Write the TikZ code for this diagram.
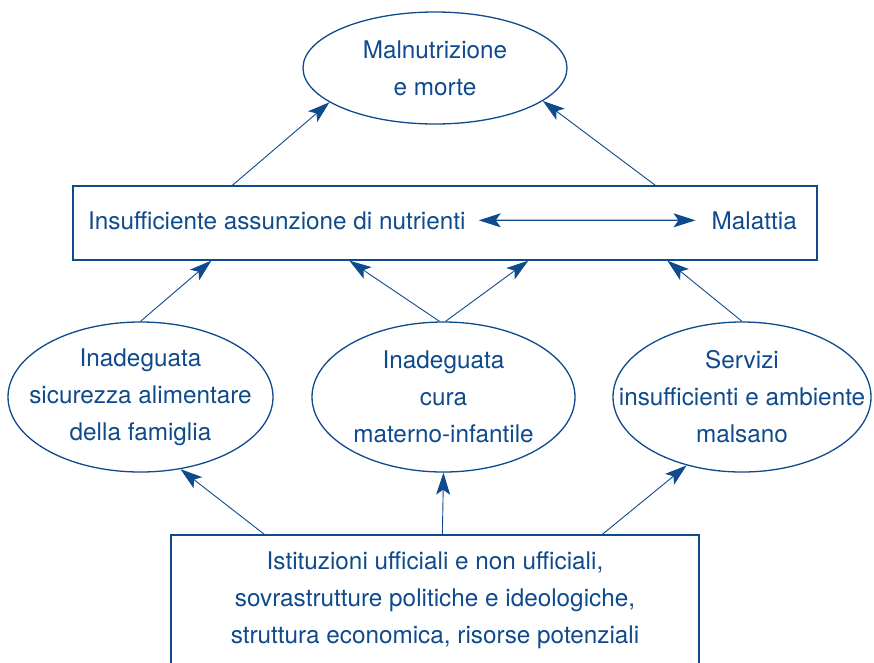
\documentclass[tikz,border=0pt]{standalone}
\usepackage{fontspec}
\setmainfont{TeX Gyre Heros}
\usetikzlibrary{arrows.meta,shapes.geometric}
\definecolor{unblue}{RGB}{14,74,140}
\tikzset{
	every node/.style={text=unblue, font=\fontsize{24.3}{37}\selectfont, align=center},
	bubble/.style={ellipse, draw=unblue, line width=1.3pt, inner sep=0pt},
	frame/.style={rectangle, draw=unblue, line width=1.3pt},
	link/.style={draw=unblue, line width=0.9pt, ->},
	>={Stealth[length=22pt,width=14pt,inset=5pt]}
}
\begin{document}
\begin{tikzpicture}[x=1pt,y=-1pt]
		\useasboundingbox (0,0) rectangle (874,662);
		\clip (0,0) rectangle (874,662);
		
		\node[bubble, minimum width=264, minimum height=112, label={center:{Malnutrizione\\e morte}}] (morte) at (435,68) {};
		
		\node[frame, minimum width=744, minimum height=74] (cause) at (445,223) {};
		\node[anchor=base west, inner xsep=13pt] (nutrienti) at (75,229) {Insufficiente assunzione di nutrienti};
		\node[anchor=base east, inner xsep=16pt] (malattia) at (813,229) {Malattia};
		\draw[link, <->, line width=1.3pt] (nutrienti) -- (malattia);
		
		\node[bubble, minimum width=265, minimum height=150, label={center:{Inadeguata\\sicurezza alimentare\\della famiglia}}] (sicurezza) at (140.5,397) {};
		\node[bubble, minimum width=263, minimum height=150, label={center:{Inadeguata\\cura\\materno-infantile}}] (cura) at (443.5,397) {};
		\node[bubble, minimum width=258, minimum height=150, label={center:{Servizi\\insufficienti e ambiente\\malsano}}] (servizi) at (742,397) {};
		
		\node[frame, minimum width=528, minimum height=130] (istituzioni) at (435,600) {Istituzioni ufficiali e non ufficiali,\\sovrastrutture politiche e ideologiche,\\struttura economica, risorse potenziali};
		
		\draw[link] ([xshift=160pt]cause.north west) -- (morte.198);
		\draw[link] ([xshift=583pt]cause.north west) -- (morte.343);
		\draw[link] (sicurezza.north) -- ([xshift=139pt]cause.south west);
		\draw[link] ([xshift=-4pt]cura.north) -- ([xshift=277pt]cause.south west);
		\draw[link] ([xshift=2pt]cura.north) -- ([xshift=456pt]cause.south west);
		\draw[link] (servizi.north) -- ([xshift=595pt]cause.south west);
		\draw[link] ([xshift=94pt]istituzioni.north west) -- (sicurezza.299);
		\draw[link] ([xshift=272pt]istituzioni.north west) -- (cura.south);
		\draw[link] ([xshift=432pt]istituzioni.north west) -- (servizi.231);
\end{tikzpicture}
\end{document}
